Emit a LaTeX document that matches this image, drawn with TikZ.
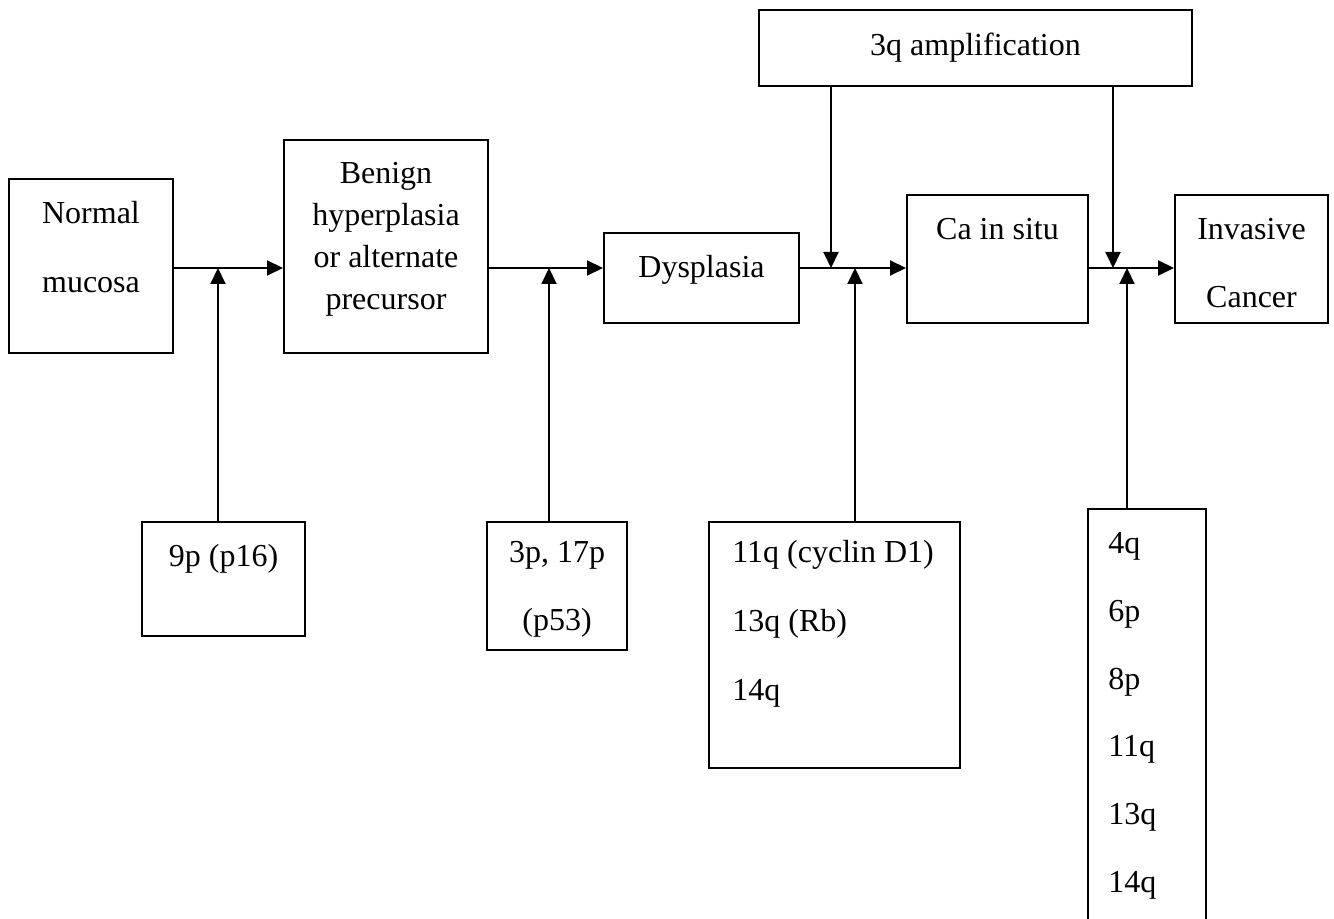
\documentclass[tikz,border=0pt]{standalone}
\usepackage{fontspec}
\setmainfont{Liberation Serif}
\usetikzlibrary{arrows.meta}
\newcommand{\myfs}[1]{\fontsize{16pt}{#1}\selectfont}
\begin{document}
\begin{tikzpicture}[x=0.5pt,y=-0.5pt,
  box/.style={draw, line width=1pt, inner sep=0pt, rectangle},
  txt/.style={anchor=base, inner sep=0pt},
  ltxt/.style={anchor=base west, inner sep=0pt},
  arr/.style={line width=1pt, -{Triangle[length=8pt,width=7.5pt]}}]
\useasboundingbox (0,0) rectangle (1334,919);
\clip (0,0) rectangle (1334,919);
% boxes
\node[box, minimum width=82pt, minimum height=87pt] (normal) at (91,266) {};
\node[box, minimum width=102pt, minimum height=106.5pt] (benign) at (386,246.5) {};
\node[box, minimum width=97.5pt, minimum height=45pt] (dysp) at (701.5,278) {};
\node[box, minimum width=90.5pt, minimum height=64pt] (cis) at (997.5,259) {};
\node[box, minimum width=76.5pt, minimum height=64pt] (inv) at (1251.5,259) {};
\node[box, minimum width=216.5pt, minimum height=38pt] (amp) at (975.5,48) {};
\node[box, minimum width=81.5pt, minimum height=57pt] (p9) at (223.5,579) {};
\node[box, minimum width=70pt, minimum height=64pt] (p3) at (557,586) {};
\node[box, minimum width=125.5pt, minimum height=123pt] (q11) at (834.5,645) {};
\node[box, minimum width=59pt, minimum height=215.5pt] (q4) at (1147,724.5) {};
% texts
\node[txt, font=\myfs{34.5pt}] (tnormal) at (91,224) {\begin{tabular}[t]{@{}c@{}}Normal\\mucosa\end{tabular}};
\node[txt, font=\myfs{21pt}] (tbenign) at (386,184) {\begin{tabular}[t]{@{}c@{}}Benign\\hyperplasia\\or alternate\\precursor\end{tabular}};
\node[txt, font=\myfs{21pt}] (tdysp) at (701.5,278) {Dysplasia};
\node[txt, font=\myfs{21pt}] (tamp) at (975.5,56) {3q amplification};
\node[txt, font=\myfs{21pt}] (tcis) at (997.5,240) {Ca in situ};
\node[txt, font=\myfs{34pt}] (tinv) at (1251.5,240) {\begin{tabular}[t]{@{}c@{}}Invasive\\Cancer\end{tabular}};
\node[txt, font=\myfs{21pt}] (tp9) at (223.5,567) {9p (p16)};
\node[txt, font=\myfs{34pt}] (tp3) at (557,563) {\begin{tabular}[t]{@{}c@{}}3p, 17p\\(p53)\end{tabular}};
\node[ltxt, font=\myfs{34.5pt}] (tq11) at (732,563) {\begin{tabular}[t]{@{}l@{}}11q (cyclin D1)\\13q (Rb)\\14q\end{tabular}};
\node[ltxt, font=\myfs{34pt}] (tq4) at (1108,553) {\begin{tabular}[t]{@{}l@{}}4q\\6p\\8p\\11q\\13q\\14q\end{tabular}};
% junctions
\coordinate (main) at (0,268);
\coordinate (j1) at (218,268);
\coordinate (j2) at (549,268);
\coordinate (j3) at (855,268);
\coordinate (j4) at (1127,268);
\coordinate (d1) at (831,268);
\coordinate (d2) at (1113,268);
% main flow
\draw[arr] (normal.east |- main) -- (benign.west |- main);
\draw[arr] (benign.east |- main) -- (dysp.west |- main);
\draw[arr] (dysp.east |- main) -- (cis.west |- main);
\draw[arr] (cis.east |- main) -- (inv.west |- main);
% up arrows
\draw[arr] (p9.north -| j1) -- (j1);
\draw[arr] (p3.north -| j2) -- (j2);
\draw[arr] (q11.north -| j3) -- (j3);
\draw[arr] (q4.north -| j4) -- (j4);
% down arrows
\draw[arr] (amp.south -| d1) -- (d1);
\draw[arr] (amp.south -| d2) -- (d2);
\end{tikzpicture}
\end{document}
